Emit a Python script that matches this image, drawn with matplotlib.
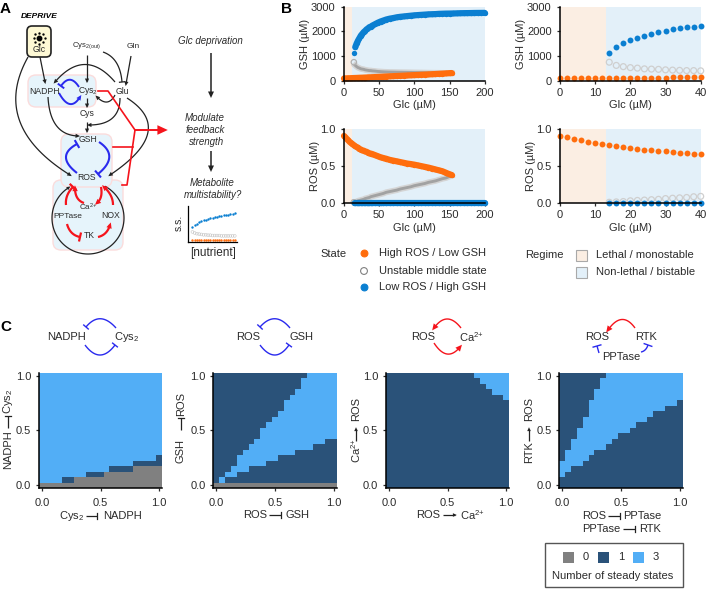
import numpy as np
import matplotlib
matplotlib.use("Agg")
import matplotlib.pyplot as plt
from matplotlib.colors import ListedColormap
from matplotlib.patches import FancyBboxPatch, Rectangle, Polygon

plt.rcParams['font.family'] = ['Liberation Sans', 'DejaVu Sans']
plt.rcParams['mathtext.fontset'] = 'custom'
plt.rcParams['mathtext.rm'] = 'Liberation Sans'
plt.rcParams['mathtext.default'] = 'regular'

W, H = 709, 590

# ---------- Data: Panel B ----------
glc_high = [0,2,4,6,8,10,12,14,16,18,20,22,24,26,28,30,32,34,36,38,40,44,48,52,56,60,65,70,75,80,85,90,95,100,105,110,115,120,125,130,135,140,145,150,153]
gsh_high = [90,92,95,98,100,102,105,108,110,112,115,118,120,122,125,128,130,132,135,138,140,146,152,158,164,170,177,184,191,198,205,212,219,226,233,240,247,254,262,270,278,286,295,305,310]
ros_high = [.91,.89,.87,.85,.83,.815,.80,.785,.77,.76,.75,.735,.725,.715,.71,.70,.695,.685,.675,.67,.665,.65,.635,.62,.61,.60,.585,.575,.565,.555,.545,.535,.528,.52,.51,.50,.49,.48,.468,.455,.443,.43,.41,.39,.38]

glc_mid = [14,16,18,20,22,24,26,28,30,32,34,36,38,40,44,48,52,56,60,65,70,75,80,85,90,95,100,105,110,115,120,125,130,135,140,145,150,153]
gsh_mid = [750,620,570,530,510,480,470,460,440,430,420,410,410,400,390,375,368,360,355,350,348,345,342,340,338,335,332,330,328,325,322,320,318,316,314,312,310,308]
ros_mid = [.01,.015,.02,.03,.035,.04,.045,.05,.06,.065,.07,.075,.085,.09,.10,.11,.12,.13,.145,.155,.165,.175,.19,.20,.21,.22,.235,.245,.255,.265,.28,.29,.30,.315,.33,.34,.36,.37]

glc_low = [14,16,18,20,22,24,26,28,30,32,34,36,38,40,44,48,52,56,60,65,70,75,80,85,90,95,100,105,110,115,120,125,130,135,140,145,150,155,160,165,170,175,180,185,190,195,200]
gsh_low = [1120,1360,1510,1630,1730,1830,1900,1970,2020,2080,2120,2170,2190,2230,2290,2350,2400,2440,2480,2515,2540,2570,2590,2605,2620,2635,2650,2660,2670,2680,2690,2695,2700,2710,2715,2720,2722,2725,2730,2735,2738,2740,2742,2745,2747,2748,2750]
ros_low = [0.005] * len(glc_low)

lethal_left = 12
lethal_right = 13

# ---------- Data: Panel C, steady state maps (rows counted from the bottom, per column) ----------
c1_gray = [1,1,1,1,1,1,2,2,2,2,2,3,3,3,3,3,4,4,4,4,4]
c1_dark_top = [1,1,1,1,2,2,2,2,3,3,3,3,4,4,4,4,5,5,5,5,6]
c1_light_top = [21] * 21

c2_gray = [1] * 21
c2_dark_top = [1,1,2,2,3,3,4,4,4,5,5,6,6,6,7,7,7,8,8,9,9]
c2_light_top = [1,2,3,4,6,7,8,9,11,12,13,14,16,17,18,20,21,21,21,21,21]

c3_gray = [0] * 21
c3_dark_top = [21,21,21,21,21,21,21,21,21,21,21,21,21,21,21,20,19,18,17,17,16]
c3_light_top = [21] * 21

c4_gray = [0] * 21
c4_dark_top = [2,3,4,4,5,6,7,7,8,9,10,10,11,12,12,13,14,14,15,15,16]
c4_light_top = [5,7,9,11,13,16,18,20,21,21,21,21,21,21,21,21,21,21,21,21,21]

# ---------- Data: mini chart in panel A ----------
mini_x = [0,1,2,3,4,5,6,7,8,9,10,11,12,13,14,15,16,17,18,19]
mini_hi = [.42,.47,.51,.55,.58,.60,.62,.64,.66,.68,.69,.70,.72,.73,.74,.75,.76,.77,.78,.80]
mini_mid = [.28,.25,.23,.22,.21,.20,.20,.19,.19,.18,.18,.18,.18,.17,.17,.17,.17,.17,.17,.17]
mini_lo = [.06] * 20

ORANGE = '#ff6d0d'
BLUE = '#0b7fd1'
LETHAL = '#fbeee3'
BISTABLE = '#e3f0f9'
GRAY0 = '#808080'
DARK1 = '#2a5279'
LIGHT3 = '#52aef6'
RED = '#f5141c'
VBLUE = '#2a2aee'
TXT = '#2b2b2b'
CA = 'Ca$^{2{+}}$'

fig = plt.figure(figsize=(W / 100, H / 100), dpi=100, facecolor='white')


def ax_px(x0, y0, x1, y1, **kw):
    return fig.add_axes([x0 / W, 1 - y1 / H, (x1 - x0) / W, (y1 - y0) / H], **kw)


def style(ax):
    for s in ('top', 'right'):
        ax.spines[s].set_visible(False)
    for s in ('left', 'bottom'):
        ax.spines[s].set_linewidth(1.1)
        ax.spines[s].set_zorder(20)
    ax.tick_params(labelsize=8, length=2.5, width=0.9, colors=TXT)
    ax.tick_params(axis='x', pad=2.5)
    ax.tick_params(axis='y', pad=3.5)


def panel_b(ax, sets, boundary, xmax, ymax, yticks, xticks, ylabel, midcol, ms, dense):
    style(ax)
    ax.axvspan(0, boundary, color=LETHAL, lw=0, zorder=0)
    ax.axvspan(boundary, xmax, color=BISTABLE, lw=0, zorder=0)
    (xh, yh), (xm, ym), (xl, yl) = sets
    d = np.sqrt(ms)
    if dense:
        ax.plot(xm[1:], ym[1:], color='#d4d4d4', lw=d + 0.4, zorder=2, clip_on=False)
        ax.plot(xm[1:], ym[1:], color='#a2a2a2', lw=d - 1.8, zorder=2.1, clip_on=False)
        ax.plot(xh, yh, color=ORANGE, lw=d + 0.6, zorder=4, clip_on=False, solid_capstyle='round')
        ax.plot(xl[1:], yl[1:], color=BLUE, lw=d + 0.6, zorder=5, clip_on=False, solid_capstyle='round')
    ax.scatter(xm[:1] if dense else xm, ym[:1] if dense else ym, s=ms, facecolor='none', edgecolor=midcol, linewidth=0.9, zorder=3, clip_on=False)
    ax.scatter(xh, yh, s=ms, color=ORANGE, linewidth=0, zorder=4, clip_on=False)
    ax.scatter(xl, yl, s=ms, color=BLUE, linewidth=0, zorder=5, clip_on=False)
    ax.set_xlim(0, xmax)
    ax.set_ylim(0, ymax)
    ax.set_xticks(xticks)
    ax.set_yticks(yticks)
    ax.set_xlabel('Glc (µM)', fontsize=8, labelpad=2, color=TXT)
    ax.set_ylabel(ylabel, fontsize=8, labelpad=0.5, color=TXT)


def subset(x, y, xmax):
    return [a for a in x if a <= xmax], [b for a, b in zip(x, y) if a <= xmax]


gsh_sets = ((glc_high, gsh_high), (glc_mid, gsh_mid), (glc_low, gsh_low))
ros_sets = ((glc_high, ros_high), (glc_mid, ros_mid), (glc_low, ros_low))

LX0, LX1, RX0, RX1 = 344, 484.7, 560, 700.7
a = ax_px(LX0, 6.7, LX1, 80.7)
panel_b(a, gsh_sets, lethal_left, 200, 3000, [0, 1000, 2000, 3000], [0, 50, 100, 150, 200], 'GSH (µM)', '#b0b0b0', 15, True)
a = ax_px(RX0, 6.7, RX1, 80.7)
panel_b(a, tuple(subset(x, y, 40) for x, y in gsh_sets), lethal_right, 40, 3000, [0, 1000, 2000, 3000], [0, 10, 20, 30, 40], 'GSH (µM)', '#cfcfcf', 18, False)
a = ax_px(LX0, 129.3, LX1, 203)
panel_b(a, ros_sets, lethal_left, 200, 1.0, [0, 0.5, 1.0], [0, 50, 100, 150, 200], 'ROS (µM)', '#b0b0b0', 15, True)
a = ax_px(RX0, 129.3, RX1, 203)
panel_b(a, tuple(subset(x, y, 40) for x, y in ros_sets), lethal_right, 40, 1.0, [0, 0.5, 1.0], [0, 10, 20, 30, 40], 'ROS (µM)', '#cfcfcf', 18, False)

# ---------- Panel C maps ----------
cmap = ListedColormap([GRAY0, DARK1, LIGHT3])


def state_map(x0, gray, dark, light):
    ax = ax_px(x0, 373, x0 + 123.2, 488)
    style(ax)
    grid = np.ones((21, 21), dtype=int)
    for c in range(21):
        grid[:gray[c], c] = 0
        grid[gray[c]:dark[c], c] = 1
        grid[dark[c]:light[c], c] = 2
        grid[light[c]:, c] = 1
    edges = np.linspace(-0.025, 1.025, 22)
    ax.pcolormesh(edges, edges, grid, cmap=cmap, vmin=0, vmax=2, rasterized=True)
    ax.set_xticks([0, 0.5, 1.0])
    ax.set_yticks([0, 0.5, 1.0])
    ax.set_xticklabels(['0.0', '0.5', '1.0'])
    ax.set_yticklabels(['0.0', '0.5', '1.0'])
    ax.tick_params(axis='x', pad=4.5)
    ax.tick_params(axis='y', pad=3)
    return ax


state_map(39, c1_gray, c1_dark_top, c1_light_top)
state_map(213.3, c2_gray, c2_dark_top, c2_light_top)
state_map(386, c3_gray, c3_dark_top, c3_light_top)
state_map(559.3, c4_gray, c4_dark_top, c4_light_top)

# ---------- Mini chart ----------
m = ax_px(188, 206, 237, 242)
for s in ('top', 'right'):
    m.spines[s].set_visible(False)
m.spines['left'].set_linewidth(0.9)
m.spines['bottom'].set_linewidth(0.9)
m.set_xticks([])
m.set_yticks([])
m.set_xlim(-2, 20)
m.set_ylim(0, 1)
m.patch.set_alpha(0)
m.scatter(mini_x, mini_mid, s=4, facecolor='none', edgecolor='#c4c4c4', linewidth=0.4)
m.scatter(mini_x, mini_hi, s=3, color=BLUE, linewidth=0)
m.scatter(mini_x, mini_lo, s=3, color=ORANGE, linewidth=0)

# ---------- Overlay in pixel coordinates ----------
top = fig.add_axes([0, 0, 1, 1], zorder=30)
top.set_xlim(0, W)
top.set_ylim(H, 0)
top.axis('off')
top.patch.set_alpha(0)


def t(x, y, s, fs=7, ha='center', va='center', ax=top, **kw):
    kw.setdefault('color', TXT)
    ax.text(x, y, s, fontsize=fs, ha=ha, va=va, **kw)


def bez(p0, c, p1, n=40):
    u = np.linspace(0, 1, n)[:, None]
    p0, c, p1 = map(np.asarray, (p0, c, p1))
    return (1 - u) ** 2 * p0 + 2 * u * (1 - u) * c + u ** 2 * p1


def arc(cx, cy, r, a0, a1, n=60):
    th = np.radians(np.linspace(a0, a1, n))
    return np.c_[cx + r * np.cos(th), cy + r * np.sin(th)]


def stroke(pts, color='#222222', lw=0.9, end='arrow', size=3.5, ax=top, z=5):
    pts = np.asarray(pts, float)
    ax.plot(pts[:, 0], pts[:, 1], color=color, lw=lw, solid_capstyle='butt', zorder=z)
    d = pts[-1] - pts[-min(3, len(pts))]
    d = d / np.hypot(*d)
    nrm = np.array([-d[1], d[0]])
    if end == 'arrow':
        tip = pts[-1] + d * size * 0.6
        ax.add_patch(Polygon([tip, pts[-1] - d * size * 0.7 + nrm * size * 0.6, pts[-1] - d * size * 0.7 - nrm * size * 0.6],
                             closed=True, fc=color, ec='none', zorder=z))
    elif end == 'tee':
        ax.plot(*np.c_[pts[-1] + nrm * size, pts[-1] - nrm * size], color=color, lw=lw, zorder=z)


for (x0, y0, x1, y1) in [(28, 75, 96, 107), (53, 180, 123, 250), (61, 134, 112, 187)]:
    top.add_patch(FancyBboxPatch((x0 + 6, y0 + 6), x1 - x0 - 12, y1 - y0 - 12, boxstyle='round,pad=6,rounding_size=8',
                                 fc='#e6f4fb', ec='#fbdcdc', lw=1, zorder=1))
top.add_patch(FancyBboxPatch((31, 30), 16, 23, boxstyle='round,pad=4,rounding_size=5', fc='#fdf8d4', ec='#222222', lw=1.2, zorder=2))
top.plot([39], [38], 'o', ms=3.2, color='black', zorder=3)
sun_angles = [0, 45, 90, 135, 180, 225, 270, 315]
for ang in sun_angles:
    top.plot(39 + 5.5 * np.cos(np.radians(ang)), 38 + 5.5 * np.sin(np.radians(ang)), 'o', ms=0.7, color='black', zorder=3)

t(5, 9, 'A', 11, weight='bold', color='black')
t(286, 9, 'B', 11, weight='bold', color='black')
t(6, 327, 'C', 11, weight='bold', color='black')
t(39, 17, 'DEPRIVE', 6, style='italic', weight='bold', color='black')
t(39, 49, 'Glc', 6.2, zorder=8)
t(87, 46, 'Cys$_{2(out)}$', 5.6)
t(133, 46, 'Gln', 6)
t(45, 92, 'NADPH', 6.2, zorder=8)
t(88, 91, 'Cys$_2$', 6.2, zorder=8)
t(122, 91, 'Glu', 6.2, zorder=8)
t(87, 114, 'Cys', 6.2, zorder=8)
t(88, 139, 'GSH', 6.2, zorder=8)
t(87, 177, 'ROS', 6.2, zorder=8)
t(88, 207, CA, 5.8, zorder=8)
t(68, 216, 'PPTase', 6, zorder=8)
t(111, 215, 'NOX', 6.2, zorder=8)
t(89, 236, 'TK', 6.2, zorder=8)

# black links
stroke([(40, 57), (45, 82)])
stroke(bez((28, 57), (-10, 125), (70, 175)))
stroke([(87, 55), (87, 81)])
stroke(bez((103, 52), (120, 58), (122, 82)), end='tee', size=2.5)
stroke([(131, 56), (126, 84)])
stroke(bez((115, 82), (85, 47), (55, 82)))
stroke(bez((115, 95), (108, 108), (97, 97)))
stroke([(87, 98), (87, 106)])
stroke([(87, 122), (87, 131)])
stroke(bez((120, 98), (120, 125), (89, 125)))
stroke(bez((127, 98), (177, 130), (110, 175)))
stroke(bez((48, 97), (50, 135), (78, 136)))
stroke(arc(88, 218, 36, -62, 238, 120), size=3)

# blue loops
stroke(bez((79, 87), (70, 73), (61, 86)), VBLUE, 1.4, 'tee', 3)
stroke(bez((59, 93), (70, 113), (80, 97)), VBLUE, 1.4, 'arrow', 4)
stroke(bez((77, 173), (55, 156), (77, 144)), VBLUE, 1.5, 'tee', 3.5)
stroke(bez((99, 142), (120, 156), (98, 174)), VBLUE, 1.5, 'tee', 3.5)

# red loops
stroke(bez((66, 205), (65, 195), (73, 187)), RED, 1.6, 'tee', 3.5)
stroke(bez((84, 203), (75, 200), (75, 188)), RED, 1.6, 'arrow', 4.5)
stroke(bez((101, 187), (103, 198), (97, 203)), RED, 1.6, 'arrow', 4.5)
stroke(bez((113, 205), (113, 195), (104, 187)), RED, 1.6, 'arrow', 4.5)
stroke(bez((67, 224), (70, 235), (80, 237)), RED, 1.6, 'tee', 3.5)
stroke(bez((98, 237), (107, 235), (110, 225)), RED, 1.6, 'arrow', 4.5)
for seg in ([(98, 91), (108, 91), (135, 130)], [(113, 147), (133, 147)], [(122, 185), (127, 185), (135, 130)]):
    s_ = np.array(seg)
    top.plot(s_[:, 0], s_[:, 1], color=RED, lw=1.2, zorder=6)
stroke([(135, 130), (163, 130)], RED, 1.4, 'arrow', 8, z=6)

# flow text
t(210, 41, 'Glc deprivation', 7, style='italic')
stroke([(211, 53), (211, 95)], '#222222', 1.1, 'arrow', 5)
t(205, 118, 'Modulate', 7, style='italic')
t(205, 130, 'feedback', 7, style='italic')
t(207, 142, 'strength', 7, style='italic')
stroke([(211, 151), (211, 169)], '#222222', 1.1, 'arrow', 5)
t(212, 183, 'Metabolite', 7, style='italic')
t(213, 195, 'multistability?', 7, style='italic')
t(179, 223, 's.s.', 7.5, rotation=90)
t(213, 253, '[nutrient]', 8.5)

# panel B legends
t(334, 254, 'State', 8)
t(544, 255, 'Regime', 8)
legend_states = [('High ROS / Low GSH', 253, ORANGE, ORANGE), ('Unstable middle state', 271, 'none', '#808080'), ('Low ROS / High GSH', 287, BLUE, BLUE)]
for lab, y, fc, ec in legend_states:
    top.scatter([364], [y], s=24, facecolor=fc, edgecolor=ec, linewidth=0.8)
    t(379, y, lab, 8, ha='left')
for lab, y, fc in [('Lethal / monostable', 255, LETHAL), ('Non-lethal / bistable', 272, BISTABLE)]:
    top.add_patch(Rectangle((575.5, y - 5.5), 11, 11, fc=fc, ec='#a9a9a9', lw=0.8))
    t(596, y, lab, 8, ha='left')

# motifs of panel C
t(66, 337, 'NADPH', 8)
t(127, 337, 'Cys$_2$', 8)
stroke(bez((116, 328), (100, 310), (86, 327)), VBLUE, 1, 'tee', 3)
stroke(bez((85, 345), (100, 365), (115, 345)), VBLUE, 1, 'tee', 3)
t(248, 337, 'ROS', 8)
t(302, 337, 'GSH', 8)
stroke(bez((290, 328), (275, 310), (260, 327)), VBLUE, 1, 'tee', 3)
stroke(bez((260, 345), (275, 365), (289, 345)), VBLUE, 1, 'tee', 3)
t(423, 337, 'ROS', 8)
t(471, 337, CA, 8)
stroke(bez((461, 328), (447, 310), (434, 328)), RED, 1, 'arrow', 5)
stroke(bez((434, 343), (447, 363), (460, 347)), RED, 1, 'arrow', 5)
t(597, 337, 'ROS', 8)
t(646, 337, 'RTK', 8)
t(621, 357, 'PPTase', 8)
stroke(bez((635, 328), (622, 310), (608, 330)), RED, 1, 'arrow', 5)
stroke([(599, 353), (597, 346)], VBLUE, 1, 'tee', 4)
stroke(bez((641, 352), (646, 351), (648, 345)), VBLUE, 1, 'tee', 4)


def hlink(right, x0, x1, left, y, kind, a_, b_):
    t(right, y, a_, 8, ha='right')
    t(left, y, b_, 8, ha='left')
    stroke([(x0, y), (x1, y)], '#222222', 0.9, kind, 3)


hlink(84, 86, 97, 103, 516, 'tee', 'Cys$_2$', 'NADPH')
hlink(267, 269, 281, 285, 515, 'tee', 'ROS', 'GSH')
hlink(440, 443, 455, 460, 515, 'arrow', 'ROS', CA)
hlink(606, 608, 620, 623, 516, 'tee', 'ROS', 'PPTase')
hlink(620, 623, 635, 639, 529, 'tee', 'PPTase', 'RTK')


def vlink(x, ybot, y0, y1, ytop, kind, a_, b_):
    t(x, ybot, a_, 8, rotation=90, va='bottom', ha='center')
    t(x, ytop, b_, 8, rotation=90, va='bottom', ha='center')
    stroke([(x, y0), (x, y1)], '#222222', 0.9, kind, 3)


vlink(8, 469, 428, 416, 414, 'tee', 'NADPH', 'Cys$_2$')
vlink(181, 463, 430, 418, 416, 'tee', 'GSH', 'ROS')
vlink(356, 463, 441, 429, 421, 'arrow', CA, 'ROS')
vlink(529, 463, 441, 429, 421, 'arrow', 'RTK', 'ROS')

# panel C legend
top.add_patch(Rectangle((545, 543), 138, 44, fc='white', ec='#555555', lw=1))
for x, c, lab, lx in [(568, GRAY0, '0', 586), (603, DARK1, '1', 621), (638, LIGHT3, '3', 656)]:
    top.add_patch(Rectangle((x - 5.5, 551.5), 11, 11, fc=c, ec='none'))
    t(lx, 557, lab, 8)
t(613, 576, 'Number of steady states', 8)

fig.savefig('out.png', dpi=100)
